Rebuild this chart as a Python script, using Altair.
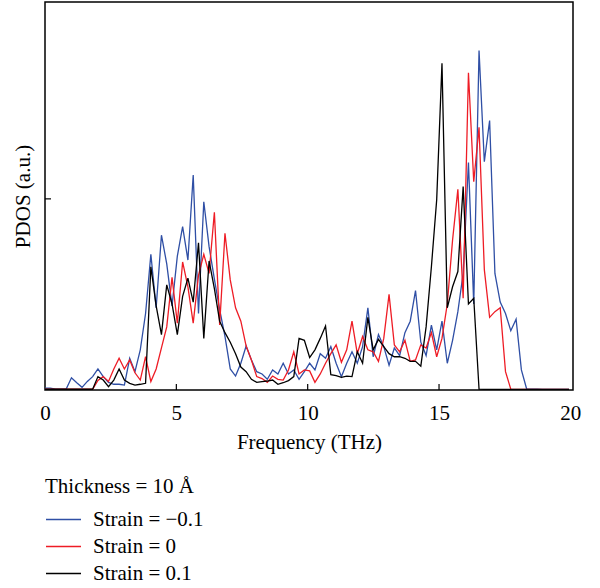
import altair as alt
import pandas as pd

# Frequency grid (THz)
freq = [round(i * 0.2015, 4) for i in range(100)]

series_names = ["Strain = \u22120.1", "Strain = 0", "Strain = 0.1"]
series_colors = ["#2f4fa5", "#ee1c25", "#000000"]

strain_m01 = [
    0.01, 0.01, 0.005, 0.005, 0.005, 0.064, 0.038, 0.014, 0.045, 0.07,
    0.11, 0.07, 0.04, 0.03, 0.03, 0.026, 0.166, 0.096, 0.21, 0.40,
    0.71, 0.43, 0.81, 0.66, 0.44, 0.70, 0.855, 0.68, 1.125, 0.40,
    0.985, 0.75, 0.58, 0.42, 0.28, 0.11, 0.073, 0.14, 0.23, 0.157,
    0.096, 0.084, 0.056, 0.105, 0.084, 0.14, 0.084, 0.105, 0.056, 0.096,
    0.14, 0.105, 0.19, 0.166, 0.227, 0.14, 0.07, 0.14, 0.2, 0.14,
    0.227, 0.43, 0.174, 0.29, 0.227, 0.13, 0.22, 0.18, 0.30, 0.36,
    0.52, 0.25, 0.18, 0.34, 0.21, 0.36, 0.14, 0.26, 0.41, 0.61,
    1.19, 0.45, 1.776, 1.195, 1.41, 0.61, 0.46, 0.40, 0.31, 0.37,
    0.105, 0.005, 0.004, 0.004, 0.003, 0.003, 0.003, 0.003, 0.003, 0.003,
]

strain_0 = [
    0.004, 0.004, 0.004, 0.004, 0.004, 0.004, 0.004, 0.004, 0.004, 0.004,
    0.05, 0.07, 0.045, 0.11, 0.166, 0.11, 0.157, 0.09, 0.052, 0.174,
    0.044, 0.11, 0.22, 0.33, 0.59, 0.35, 0.67, 0.54, 0.35, 0.60,
    0.71, 0.61, 0.93, 0.34, 0.82, 0.576, 0.43, 0.36, 0.23, 0.157,
    0.07, 0.06, 0.04, 0.073, 0.056, 0.052, 0.105, 0.2, 0.084, 0.105,
    0.10, 0.04, 0.084, 0.14, 0.19, 0.236, 0.145, 0.21, 0.36, 0.19,
    0.28, 0.21, 0.2, 0.15, 0.27, 0.5, 0.236, 0.2, 0.26, 0.15,
    0.157, 0.236, 0.22, 0.3, 0.174, 0.27, 0.45, 0.785, 1.05, 0.48,
    1.66, 1.09, 1.375, 0.63, 0.38, 0.41, 0.43, 0.096, 0.004, 0.003,
    0.003, 0.003, 0.003, 0.003, 0.003, 0.003, 0.003, 0.003, 0.003, 0.003,
]

strain_p01 = [
    0.004, 0.004, 0.004, 0.004, 0.004, 0.004, 0.004, 0.004, 0.004, 0.004,
    0.07, 0.052, 0.017, 0.052, 0.11, 0.052, 0.035, 0.026, 0.03, 0.035,
    0.645, 0.44, 0.29, 0.55, 0.45, 0.29, 0.49, 0.585, 0.46, 0.77,
    0.27, 0.675, 0.53, 0.36, 0.30, 0.25, 0.19, 0.12, 0.096, 0.056,
    0.04, 0.044, 0.047, 0.052, 0.03, 0.038, 0.049, 0.07, 0.27, 0.26,
    0.17, 0.21, 0.27, 0.335, 0.08, 0.075, 0.066, 0.073, 0.07, 0.2,
    0.14, 0.38, 0.21, 0.265, 0.227, 0.19, 0.174, 0.174, 0.166, 0.15,
    0.15, 0.125, 0.33, 0.645, 0.995, 1.71, 0.43, 0.54, 0.62, 1.065,
    0.45, 0.48, 0.004, 0.003, 0.003, 0.003, 0.003, 0.003, 0.003, 0.003,
    0.003, 0.003, 0.003, 0.003, 0.003, 0.003, 0.003, 0.003, 0.003, 0.003,
]

x_ticks = [0, 5, 10, 15, 20]
x_inner_ticks = [5, 10, 15]
y_inner_ticks = [1]

rows = []
for name, vals in zip(series_names, [strain_m01, strain_0, strain_p01]):
    for f, v in zip(freq, vals):
        rows.append({"freq": f, "pdos": v, "series": name})
df = pd.DataFrame(rows)

FONT = "Liberation Serif"
W, H = 528, 388
x_scale = alt.Scale(domain=[0, 20.1], nice=False, zero=False)
y_scale = alt.Scale(domain=[0, 2.03], nice=False)

x_axis = alt.Axis(values=x_ticks, title="Frequency (THz)", ticks=False,
                  domain=False, grid=False, labelFont=FONT, labelFontSize=21,
                  labelColor="black", labelPadding=12, titleFont=FONT,
                  titleFontSize=21, titleFontWeight="normal", titleColor="black",
                  titlePadding=8, labelFlush=False)
y_axis = alt.Axis(title="PDOS (a.u.)", labels=False, ticks=False, domain=False,
                  grid=False, titleFont=FONT, titleFontSize=21,
                  titleFontWeight="normal", titleColor="black", titlePadding=12)

lines = alt.Chart(df).mark_line(strokeWidth=1.3).encode(
    x=alt.X("freq:Q", scale=x_scale, axis=x_axis, title="Frequency (THz)"),
    y=alt.Y("pdos:Q", scale=y_scale, axis=y_axis, title="PDOS (a.u.)"),
    color=alt.Color("series:N",
                    scale=alt.Scale(domain=series_names, range=series_colors),
                    legend=alt.Legend(title="Thickness = 10 \u00c5", orient="none",
                                      legendX=0, legendY=474, symbolType="stroke",
                                      symbolSize=1225, symbolStrokeWidth=1.5,
                                      labelFont=FONT, labelFontSize=21, labelColor="black",
                                      titleFont=FONT, titleFontSize=21,
                                      titleFontWeight="normal", titleColor="black",
                                      labelOffset=11, clipHeight=25, rowPadding=2,
                                      titlePadding=10)),
)

xt = alt.Chart(pd.DataFrame({"freq": x_inner_ticks})).mark_rule(
    color="black", strokeWidth=1.2).encode(
    x=alt.X("freq:Q", scale=x_scale, axis=x_axis, title="Frequency (THz)"),
    y=alt.value(H), y2=alt.value(H - 6))

yt = alt.Chart(pd.DataFrame({"pdos": y_inner_ticks})).mark_rule(
    color="black", strokeWidth=1.2).encode(
    y=alt.Y("pdos:Q", scale=y_scale, axis=y_axis, title="PDOS (a.u.)"),
    x=alt.value(0), x2=alt.value(6))

chart = alt.layer(lines, xt, yt).properties(
    width=W, height=H,
    autosize=alt.AutoSizeParams(type="none"),
    padding={"left": 45, "top": 2, "right": 27, "bottom": 198},
).configure_view(stroke="black", strokeWidth=1.5)

chart.save("out.html", embed_options={"renderer": "svg", "actions": False})
